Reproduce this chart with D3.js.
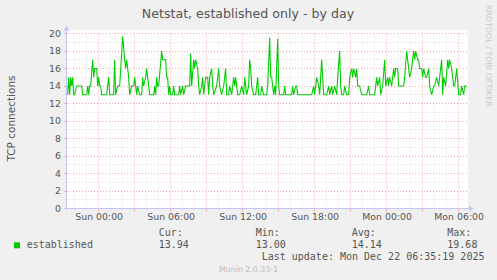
<!DOCTYPE html>
<html><head><meta charset="utf-8">
<script src="https://cdn.jsdelivr.net/npm/d3@7"></script>
<style>body{margin:0;background:#f0f0f0}svg{display:block}</style>
</head><body><svg id="c" width="497" height="280"></svg>
<script>
// ---- data ----
const times = [
"20 21:25","20 21:30","20 21:35","20 21:40","20 21:45","20 21:50","20 21:55","20 22:00","20 22:10","20 22:35",
"20 22:40","20 23:00","20 23:05","20 23:10","20 23:15","20 23:20","20 23:30","20 23:35","20 23:40","20 23:50",
"20 23:55","21 00:00","21 00:05","21 00:10","21 00:15","21 00:40","21 00:50","21 00:55","21 01:15","21 01:20",
"21 01:25","21 01:35","21 01:45","21 02:00","21 02:10","21 02:15","21 02:20","21 02:30","21 02:35","21 02:45",
"21 02:55","21 03:00","21 03:10","21 03:15","21 03:25","21 03:35","21 03:40","21 03:45","21 03:55","21 04:00",
"21 04:05","21 04:15","21 04:35","21 04:40","21 04:45","21 04:50","21 04:55","21 05:00","21 05:15","21 05:20",
"21 05:35","21 05:40","21 05:45","21 05:50","21 05:55","21 06:00","21 06:10","21 06:15","21 06:20","21 06:40",
"21 06:45","21 06:50","21 07:00","21 07:05","21 07:15","21 07:35","21 07:40","21 07:45","21 07:55","21 08:00",
"21 08:05","21 08:15","21 08:20","21 08:25","21 08:35","21 08:40","21 08:45","21 08:55","21 09:05","21 09:10",
"21 09:15","21 09:25","21 09:30","21 09:35","21 09:50","21 10:00","21 10:05","21 10:15","21 10:25","21 10:35",
"21 10:40","21 10:50","21 10:55","21 11:05","21 11:15","21 11:20","21 11:25","21 11:35","21 11:45","21 11:55",
"21 12:05","21 12:10","21 12:20","21 12:30","21 12:35","21 12:40","21 12:45","21 12:55","21 13:05","21 13:15",
"21 13:20","21 13:30","21 13:35","21 13:45","21 14:00","21 14:05","21 14:15","21 14:20","21 14:25","21 14:35",
"21 14:40","21 14:45","21 14:55","21 15:00","21 15:05","21 15:25","21 15:30","21 15:35","21 16:05","21 16:10",
"21 16:15","21 16:25","21 16:30","21 16:35","21 17:45","21 17:55","21 18:00","21 18:10","21 18:20","21 18:25",
"21 18:35","21 18:45","21 19:00","21 19:10","21 19:15","21 19:25","21 19:30","21 19:40","21 19:50","21 19:55",
"21 20:05","21 20:10","21 20:15","21 20:25","21 20:30","21 20:40","21 20:50","21 20:55","21 21:05","21 21:10",
"21 21:15","21 21:25","21 21:30","21 21:35","21 21:45","21 21:55","21 22:20","21 22:30","21 22:35","21 23:00",
"21 23:10","21 23:15","21 23:25","21 23:30","21 23:40","21 23:50","21 23:55","22 00:05","22 00:10","22 00:15",
"22 00:25","22 00:35","22 00:40","22 00:45","22 00:55","22 01:00","22 01:25","22 01:30","22 01:40","22 01:50",
"22 01:55","22 02:05","22 02:15","22 02:20","22 02:25","22 02:35","22 02:40","22 02:45","22 02:55","22 03:00",
"22 03:05","22 03:15","22 03:20","22 03:30","22 03:35","22 03:45","22 03:55","22 04:00","22 04:10","22 04:20",
"22 04:25","22 04:35","22 04:40","22 04:45","22 04:55","22 05:05","22 05:10","22 05:15","22 05:25","22 05:35",
"22 05:40","22 05:50","22 06:00","22 06:10","22 06:15","22 06:25","22 06:30","22 06:40"
];
const values = [
13,15,13,15,14,15,13,13,14,14,
13,13,14,13,14,14,17,15,16,16,
14,15,14,14,13,13,15,13,13,17,
13,14,14,19.68,17,16,17,15,13,14,
14,15,13,14,13,13,15,14,15,16,
15,13,13,14,13,15,14,14,18,17,
17,15,15,13,14,13,13,14,13,13,
14,13,14,13,14,14,17.7,14,17,16,
17,16,14,13,14,15,13,15,15,13,
15,16,14,13,14,16,14,13,14,16,
13,13,14,13,15,14,15,13,13,14,
13,15,13,14,17,16,14,13,13,15,
13,13,14,13,13,14,19.5,15,15,13,
14,13,19.4,14,13,13,14,13,13,14,
13,14,14,13,13,14,13,15,14,13,
17,13,13,14,13,14,13,14,13,15,
18,14,13,13,14,13,13,15,16,15,
16,15,16,14,14,13,13,14,13,13,
15,14,15,13,14,17,14,15,14,15,
14,16,15,16,16,14,14,15,18,16,
15,16,18,17,18,17,17,16,16,15,
16,15,15,16,14,13,14,14,15,14,
15,17,13,15,14,17,16,17,16,14,
14,16,13,13,14,13,14,14
];
const seriesName = "established";
const yTickValues = [0,2,4,6,8,10,12,14,16,18,20];
const statLabels = ["Cur:","Min:","Avg:","Max:"];
const statValues = ["13.94","13.00","14.14","19.68"];
const titleText = "Netstat, established only - by day";
const yAxisLabel = "TCP connections";
const lastUpdate = "Last update: Mon Dec 22 06:35:19 2025";
const footer = "Munin 2.0.33-1";
const sideText = "RRDTOOL / TOBI OETIKER";
const domainStart = "2025-12-20 21:21:40";
const domainEnd = "2025-12-22 06:41:40";

// ---- drawing ----
const parseT = d3.timeParse("%Y-%m-%d %H:%M");
const parseFull = d3.timeParse("%Y-%m-%d %H:%M:%S");
const data = times.map((t,i)=>({t:parseT("2025-12-"+t), v:values[i]}));

const svg = d3.select("#c");
const L=67, R=467, T=33.5, B=208.5;
const x = d3.scaleTime().domain([parseFull(domainStart), parseFull(domainEnd)]).range([L,R]);
const y = d3.scaleLinear().domain([0,20]).range([B,T]);
const px = v => Math.floor(v)+0.5;

svg.append("rect").attr("width",497).attr("height",280).attr("fill","#f0f0f0");
svg.append("rect").attr("x",L).attr("y",30).attr("width",R-L+1).attr("height",B-30+0.5).attr("fill","#fff");

const minorCol="#dcdcdc", majorCol="#f5a8a8";
const g = svg.append("g");
// minor horizontal
d3.range(0,21).filter(v=>v%2).forEach(v=>{
  g.append("line").attr("x1",L).attr("x2",R).attr("y1",px(y(v))).attr("y2",px(y(v)))
   .attr("stroke",minorCol).attr("stroke-dasharray","1,2");
  g.append("line").attr("x1",L-2).attr("x2",L).attr("y1",px(y(v))).attr("y2",px(y(v))).attr("stroke",minorCol);
});
// minor vertical
const hours = x.ticks(d3.timeHour.every(1)).filter(d=>d.getHours()%3);
hours.forEach(d=>{
  g.append("line").attr("x1",px(x(d))).attr("x2",px(x(d))).attr("y1",T).attr("y2",B)
   .attr("stroke",minorCol).attr("stroke-dasharray","1,2");
  g.append("line").attr("x1",px(x(d))).attr("x2",px(x(d))).attr("y1",B).attr("y2",B+2).attr("stroke",minorCol);
});
// major horizontal
yTickValues.forEach(v=>{
  g.append("line").attr("x1",L).attr("x2",R).attr("y1",px(y(v))).attr("y2",px(y(v)))
   .attr("stroke",majorCol).attr("stroke-dasharray","1,2");
  g.append("line").attr("x1",L-3).attr("x2",L).attr("y1",px(y(v))).attr("y2",px(y(v))).attr("stroke",majorCol);
});
// major vertical
const majors = x.ticks(d3.timeHour.every(3));
majors.forEach(d=>{
  g.append("line").attr("x1",px(x(d))).attr("x2",px(x(d))).attr("y1",T).attr("y2",B)
   .attr("stroke",majorCol).attr("stroke-dasharray","1,2");
  g.append("line").attr("x1",px(x(d))).attr("x2",px(x(d))).attr("y1",B).attr("y2",B+3).attr("stroke",majorCol);
});

// axes lines
const axisCol="#c4c4f6";
svg.append("line").attr("x1",L-0.5).attr("x2",L-0.5).attr("y1",B+2).attr("y2",T-3).attr("stroke",axisCol);
svg.append("line").attr("x1",L-3).attr("x2",R+2).attr("y1",B).attr("y2",B).attr("stroke",axisCol);
svg.append("path").attr("d",`M${L-3.5},${T-3}L${L-0.5},${T-8}L${L+2.5},${T-3}Z`).attr("fill",axisCol);
svg.append("path").attr("d",`M${R+2},${B-3}L${R+6.5},${B}L${R+2},${B+3}Z`).attr("fill",axisCol);

// tick labels
const txtCol="#555";
yTickValues.forEach(v=>{
  svg.append("text").attr("x",61).attr("y",y(v)+3.3).attr("text-anchor","end")
   .attr("font-family","DejaVu Sans").attr("font-size",9.4).attr("fill",txtCol).text(v);
});
const fmt = d3.timeFormat("%a %H:%M");
x.ticks(d3.timeHour.every(6)).forEach(d=>{
  svg.append("text").attr("x",x(d)+0.5).attr("y",220).attr("text-anchor","middle")
   .attr("font-family","DejaVu Sans").attr("font-size",9.4).attr("fill",txtCol).text(fmt(d));
});

// data line
svg.append("clipPath").attr("id","cp").append("rect").attr("x",L).attr("y",T-6).attr("width",R-L).attr("height",B-T+6);
const line = d3.line().x(d=>x(d.t)).y(d=>y(d.v));
svg.append("path").datum(data).attr("d",line).attr("fill","none").attr("stroke","#00cc00")
  .attr("stroke-width",1.1).attr("clip-path","url(#cp)");

// title, labels
svg.append("text").attr("x",248).attr("y",18).attr("text-anchor","middle")
  .attr("font-family","DejaVu Sans").attr("font-size",12.6).attr("fill",txtCol).text(titleText);
svg.append("text").attr("transform","translate(15,118.5) rotate(-90)").attr("text-anchor","middle")
  .attr("font-family","DejaVu Sans").attr("font-size",10.5).attr("fill",txtCol).text(yAxisLabel);
svg.append("text").attr("transform","translate(486,5) rotate(90)").attr("text-anchor","start")
  .attr("font-family","DejaVu Sans").attr("font-size",7.9).attr("fill","#c8c8c8").text(sideText);

// legend
const mono = "DejaVu Sans Mono";
svg.append("rect").attr("x",14).attr("y",242.3).attr("width",6).attr("height",6).attr("fill","#00cc00");
svg.append("text").attr("x",26.7).attr("y",248.3).attr("font-family",mono).attr("font-size",10).attr("fill",txtCol).text(seriesName);
const statX = [158.7,255.7,351.7,447.3];
statLabels.forEach((s,i)=>{
  svg.append("text").attr("x",statX[i]).attr("y",235.8).attr("font-family",mono).attr("font-size",10).attr("fill",txtCol).text(s);
  svg.append("text").attr("x",statX[i]).attr("y",248.3).attr("font-family",mono).attr("font-size",10).attr("fill",txtCol).text(statValues[i]);
});
svg.append("text").attr("x",261.7).attr("y",260.4).attr("font-family",mono).attr("font-size",10).attr("fill",txtCol).text(lastUpdate);
svg.append("text").attr("x",248.5).attr("y",272).attr("text-anchor","middle")
  .attr("font-family","DejaVu Sans").attr("font-size",7.8).attr("fill","#bbb").text(footer);
</script></body></html>
